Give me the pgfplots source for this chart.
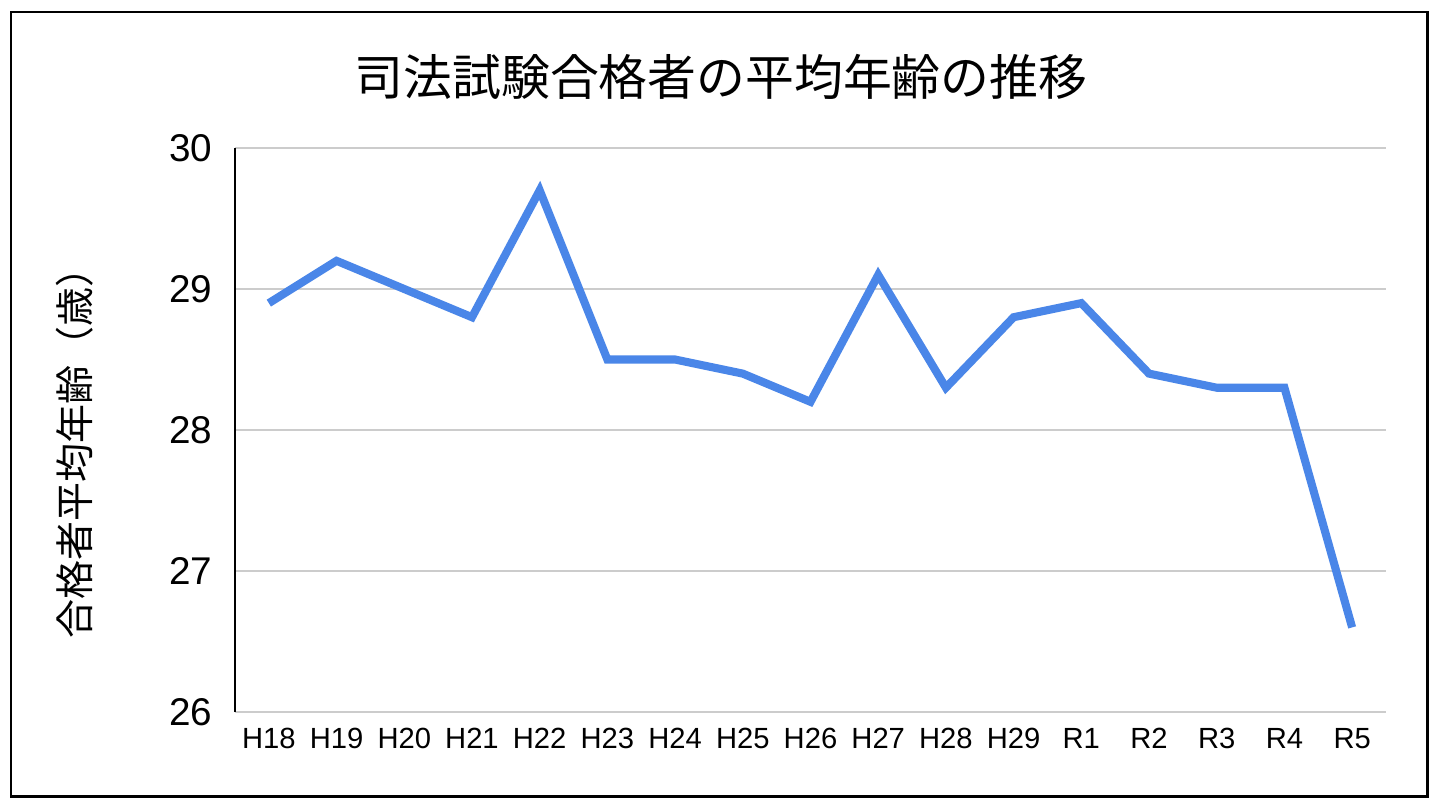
\documentclass[border=0pt]{standalone}
\usepackage{fontspec}
\setmainfont{Liberation Sans}
\newfontfamily\cjk{Noto Sans CJK JP}
\usepackage{pgfplots}
\pgfplotsset{compat=1.18}
\definecolor{lineblue}{RGB}{74,134,232}
\definecolor{gridgray}{RGB}{204,204,204}
\begin{document}
\begin{tikzpicture}
\useasboundingbox (0,0) rectangle (14.4,8.1);
\fill[white] (0,0) rectangle (14.4,8.1);
\begin{axis}[
  at={(2.35cm,0.98cm)}, anchor=south west,
  scale only axis, width=11.51cm, height=5.64cm,
  xmin=-0.5, xmax=16.5, ymin=26, ymax=30,
  xtick={0,...,16},
  xticklabels={H18,H19,H20,H21,H22,H23,H24,H25,H26,H27,H28,H29,R1,R2,R3,R4,R5},
  ytick={26,27,28,29,30},
  /pgf/number format/assume math mode=true,
  axis lines=left,
  x axis line style={-, draw=gridgray, line width=0.6pt},
  y axis line style={-, draw=black, line width=0.5pt},
  major tick length=0pt,
  ymajorgrids, grid style={gridgray, line width=0.6pt},
  yticklabel style={font=\fontsize{11}{13}\selectfont, xshift=-3pt},
  xticklabel style={font=\fontsize{8.3}{10}\selectfont, yshift=-1pt},
  clip=false,
]
\addplot[lineblue, line width=2.3pt, line join=miter, miter limit=4] coordinates {
(0,28.9) (1,29.2) (2,29.0) (3,28.8) (4,29.7) (5,28.5) (6,28.5) (7,28.4) (8,28.2)
(9,29.1) (10,28.3) (11,28.8) (12,28.9) (13,28.4) (14,28.3) (15,28.3) (16,26.6)};
\end{axis}
\node[font=\cjk\fontsize{13.9}{16}\selectfont] at (7.21,7.33) {司法試験合格者の平均年齢の推移};
\node[font=\cjk\fontsize{11.1}{13}\selectfont, rotate=90, anchor=west, inner sep=0pt] at (0.75,1.71) {合格者平均年齢（歳）};
\draw[line width=0.85pt] (0.11,0.14) rectangle (14.27,7.98);
\end{tikzpicture}
\end{document}
